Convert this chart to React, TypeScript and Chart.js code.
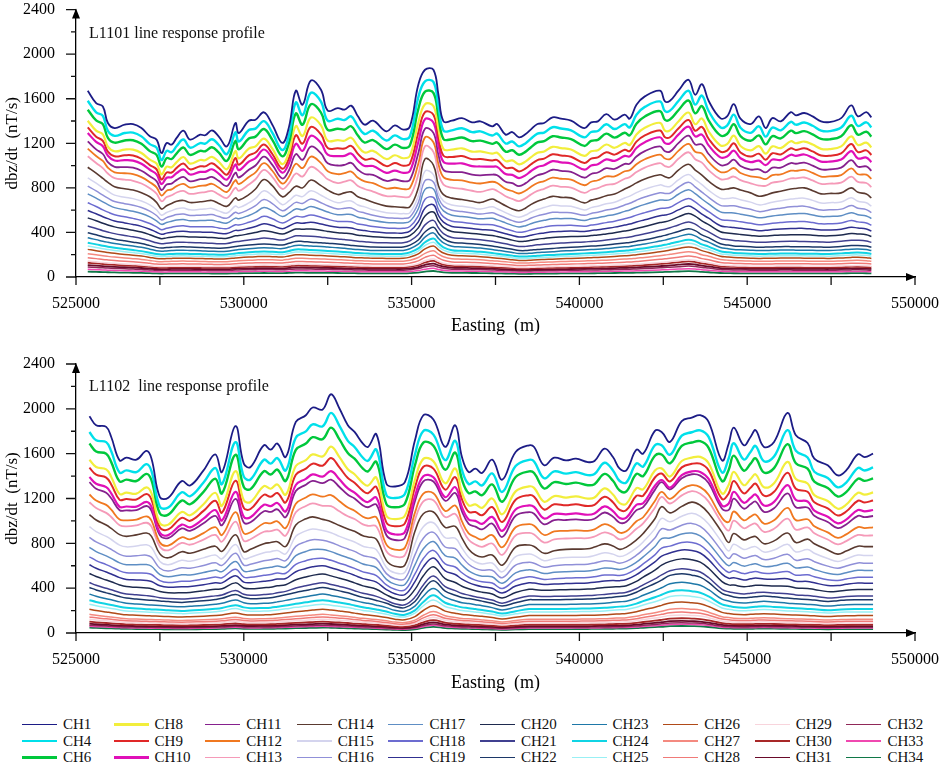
import React, { useEffect, useRef } from 'react';
import Chart from 'chart.js/auto';

const FONT = "'Liberation Serif', 'Times New Roman', serif";

// === Channels ===
const CHANNELS = [
  'CH1', 'CH4', 'CH6', 'CH8', 'CH9', 'CH10', 'CH11', 'CH12', 'CH13', 'CH14',
  'CH15', 'CH16', 'CH17', 'CH18', 'CH19', 'CH20', 'CH21', 'CH22', 'CH23', 'CH24',
  'CH25', 'CH26', 'CH27', 'CH28', 'CH29', 'CH30', 'CH31', 'CH32', 'CH33', 'CH34',
];

const CHANNEL_COLORS = [
  '#1c1c86', '#00e0ea', '#00c83c', '#f2ee3c', '#e02828', '#e010b8', '#86208e', '#f07820', '#f59ab8', '#5a3a30',
  '#d4d4ee', '#9090d8', '#5e8ec4', '#6c6cd0', '#303090', '#1e2a4e', '#404090', '#1c3868', '#1e78a8', '#10d4e4',
  '#98f0f4', '#b04a18', '#f48a80', '#f07a78', '#f8d4dc', '#a82828', '#6a0a2a', '#902858', '#f048b0', '#107848',
];

const CHANNEL_WIDTHS = [
  1.8, 2.4, 2.4, 2.2, 2, 2.2, 1.8, 1.8, 1.8, 1.6,
  1.5, 1.5, 1.5, 1.5, 1.5, 1.5, 1.5, 1.5, 1.5, 2,
  1.5, 1.5, 1.5, 1.5, 1.5, 1.8, 1.8, 1.5, 1.5, 1.8,
];

// how much of the CH1 shape each channel carries (the rest follows CH14)
const EARLY_SHARE = [
  1, 0.89, 0.78, 0.67, 0.56, 0.44, 0.33, 0.22, 0.11, 0,
  0, 0, 0, 0, 0, 0, 0, 0, 0, 0,
  0, 0, 0, 0, 0, 0, 0, 0, 0, 0,
];
// how much of the CH22 shape each late channel carries (the rest follows CH14)
const DEEP_SHARE = [
  0, 0, 0, 0, 0, 0, 0, 0, 0, 0,
  0.125, 0.25, 0.375, 0.5, 0.625, 0.75, 0.875, 1, 1, 1,
  1, 1, 1, 1, 1, 1, 1, 1, 1, 1,
];

// === L1101 ===
const L1101_EASTING = [
  525350, 525600, 525800, 525950, 526150, 526450, 526700, 526950, 527200, 527400,
  527550, 527700, 527850, 528000, 528200, 528400, 528700, 528850, 529050, 529250,
  529500, 529750, 529850, 530150, 530350, 530600, 530850, 531150, 531350, 531550,
  531750, 532000, 532300, 532500, 532800, 533000, 533200, 533400, 533600, 533850,
  534250, 534500, 534750, 534950, 535200, 535400, 535650, 535800, 535950, 536200,
  536500, 536800, 537050, 537400, 537550, 537800, 538000, 538200, 538400, 538550,
  538750, 538950, 539200, 539450, 539750, 540150, 540350, 540550, 540800, 541050,
  541350, 541500, 541700, 541950, 542400, 542550, 542700, 542950, 543250, 543450,
  543650, 543850, 544200, 544400, 544600, 544800, 545100, 545350, 545550, 545750,
  546000, 546300, 546450, 546700, 546950, 547200, 547450, 547800, 548100, 548300,
  548550, 548700,
];
const L1101_CH1 = [
  1672, 1561, 1531, 1382, 1337, 1367, 1373, 1337, 1263, 1233,
  1113, 1203, 1188, 1248, 1313, 1233, 1278, 1272, 1316, 1263,
  1173, 1382, 1292, 1403, 1412, 1478, 1367, 1203, 1352, 1672,
  1546, 1764, 1681, 1493, 1516, 1502, 1538, 1442, 1367, 1403,
  1308, 1361, 1323, 1352, 1726, 1860, 1860, 1636, 1397, 1403,
  1426, 1388, 1397, 1352, 1373, 1278, 1301, 1254, 1283, 1323,
  1373, 1382, 1433, 1421, 1403, 1337, 1388, 1397, 1462, 1412,
  1457, 1421, 1546, 1621, 1672, 1576, 1582, 1672, 1770, 1636,
  1731, 1582, 1426, 1442, 1552, 1421, 1373, 1442, 1337, 1426,
  1397, 1480, 1451, 1472, 1442, 1397, 1391, 1426, 1540, 1442,
  1480, 1433,
];
const L1101_CH14 = [
  985, 932, 885, 850, 810, 792, 780, 757, 720, 670,
  610, 640, 660, 680, 687, 668, 675, 680, 687, 660,
  635, 710, 690, 740, 790, 875, 820, 720, 760, 815,
  800, 870, 820, 780, 740, 755, 764, 720, 700, 670,
  636, 630, 625, 630, 800, 1060, 1005, 820, 740, 708,
  695, 680, 668, 700, 680, 640, 610, 595, 620, 650,
  680, 700, 724, 715, 710, 665, 690, 705, 730, 745,
  790, 810, 845, 880, 918, 900, 892, 960, 1012, 960,
  915, 860, 790, 790, 800, 780, 755, 725, 735, 755,
  770, 790, 795, 800, 775, 746, 750, 755, 800, 760,
  745, 710,
];
const L1101_CH22 = [
  472, 450, 430, 418, 404, 386, 372, 357, 335, 316,
  310, 314, 318, 321, 322, 319, 316, 313, 310, 308,
  311, 325, 330, 341, 347, 352, 348, 342, 360, 380,
  380, 372, 366, 360, 352, 345, 337, 330, 326, 320,
  318, 318, 320, 340, 395, 480, 531, 465, 410, 370,
  362, 355, 348, 330, 322, 308, 295, 283, 282, 287,
  294, 299, 305, 312, 317, 326, 330, 334, 342, 352,
  363, 368, 382, 397, 432, 444, 460, 486, 514, 495,
  450, 420, 355, 342, 332, 328, 322, 318, 319, 321,
  324, 324, 323, 322, 321, 319, 318, 326, 335, 337,
  330, 318,
];
const L1101_START = [
  1672, 1582, 1502, 1403, 1343, 1292, 1218, 1152, 1084, 985,
  889, 815, 746, 666, 597, 531, 457, 397, 352, 307,
  278, 248, 209, 173, 143, 128, 107, 90, 69, 48,
];

// === L1102 ===
const L1102_EASTING = [
  525400, 525600, 525900, 526050, 526300, 526500, 526800, 527100, 527250, 527500,
  527750, 528150, 528400, 528800, 529150, 529350, 529750, 530000, 530200, 530600,
  530800, 531000, 531250, 531550, 531850, 532050, 532350, 532600, 532850, 533100,
  533300, 533550, 533700, 533950, 534250, 534500, 534800, 535100, 535350, 535650,
  536000, 536300, 536500, 536700, 536900, 537100, 537400, 537700, 538100, 538500,
  538650, 538950, 539250, 539600, 539900, 540250, 540450, 540750, 541000, 541200,
  541400, 541700, 541900, 542250, 542450, 542700, 543050, 543350, 543600, 543850,
  544250, 544450, 544600, 544900, 545100, 545250, 545500, 545800, 546200, 546450,
  546800, 547000, 547400, 547700, 547950, 548300, 548500, 548750,
];
const L1102_CH1 = [
  1934, 1854, 1839, 1749, 1540, 1564, 1546, 1624, 1555, 1212,
  1206, 1355, 1316, 1451, 1594, 1436, 1845, 1511, 1481, 1675,
  1636, 1690, 1570, 1883, 1943, 2012, 1994, 2130, 2003, 1854,
  1794, 1690, 1660, 1773, 1332, 1307, 1346, 1719, 1943, 1905,
  1660, 1854, 1570, 1436, 1466, 1427, 1546, 1368, 1615, 1675,
  1660, 1496, 1564, 1540, 1555, 1525, 1534, 1645, 1570, 1466,
  1451, 1636, 1600, 1803, 1794, 1705, 1891, 1922, 1943, 1883,
  1540, 1690, 1833, 1675, 1749, 1809, 1660, 1705, 1964, 1764,
  1695, 1555, 1496, 1406, 1451, 1594, 1570, 1600,
];
const L1102_CH14 = [
  1048, 1000, 955, 925, 870, 855, 868, 884, 855, 700,
  665, 719, 706, 740, 768, 722, 869, 720, 740, 790,
  800, 808, 765, 955, 1010, 1027, 1005, 985, 950, 920,
  900, 860, 850, 830, 640, 590, 600, 900, 1055, 1070,
  935, 943, 840, 740, 690, 672, 690, 600, 760, 779,
  765, 705, 728, 740, 742, 745, 760, 788, 770, 740,
  760, 824, 880, 1010, 1117, 1063, 1120, 1158, 1130, 1060,
  890, 800, 880, 824, 845, 853, 790, 815, 884, 800,
  830, 790, 735, 698, 725, 768, 764, 764,
];
const L1102_CH22 = [
  391, 370, 345, 334, 313, 300, 292, 284, 281, 276,
  270, 263, 268, 277, 288, 298, 331, 305, 295, 298,
  302, 313, 328, 348, 365, 377, 391, 378, 362, 345,
  327, 306, 298, 280, 255, 228, 218, 270, 370, 448,
  360, 325, 305, 296, 285, 274, 255, 232, 260, 286,
  286, 286, 286, 287, 289, 292, 294, 300, 308, 314,
  320, 350, 380, 425, 455, 495, 510, 497, 480, 435,
  340, 322, 310, 302, 307, 312, 318, 311, 300, 295,
  287, 283, 271, 278, 284, 286, 286, 286,
];
const L1102_START = [
  1934, 1794, 1690, 1546, 1475, 1391, 1346, 1236, 1167, 1057,
  949, 853, 764, 680, 609, 531, 450, 406, 347, 293,
  257, 212, 167, 143, 123, 101, 83, 70, 60, 48,
];

// === Axis ticks + arrow heads ===
const axisDecor = {
  id: 'axisDecor',
  afterDraw(chart: any) {
    const { ctx } = chart;
    const x = chart.scales.x;
    const y = chart.scales.y;
    const x0 = x.getPixelForValue(x.min);
    const y0 = y.getPixelForValue(y.min);
    ctx.save();
    ctx.strokeStyle = '#111';
    ctx.lineWidth = 1.3;
    ctx.beginPath();
    y.ticks.forEach((t: any) => {
      const py = y.getPixelForValue(t.value);
      const len = t.value % 400 === 0 ? 10 : 5;
      ctx.moveTo(x0, py);
      ctx.lineTo(x0 - len, py);
    });
    x.ticks.forEach((t: any) => {
      const px = x.getPixelForValue(t.value);
      ctx.moveTo(px, y0);
      ctx.lineTo(px, y0 + 8);
    });
    ctx.stroke();

    ctx.fillStyle = '#000';
    const xt = x.getPixelForValue(x.max);
    ctx.beginPath();
    ctx.moveTo(xt + 1, y0);
    ctx.lineTo(xt - 9, y0 - 4);
    ctx.lineTo(xt - 9, y0 + 4);
    ctx.closePath();
    ctx.fill();
    const yt = y.getPixelForValue(y.max);
    ctx.beginPath();
    ctx.moveTo(x0, yt - 1);
    ctx.lineTo(x0 - 4, yt + 9);
    ctx.lineTo(x0 + 4, yt + 9);
    ctx.closePath();
    ctx.fill();
    ctx.restore();
  },
};

interface PanelProps {
  easting: number[];
  early: number[];
  late: number[];
  deep: number[];
  start: number[];
  top: number;
  height: number;
  padTop: number;
  xAxisHeight: number;
  xTitlePad: number;
  title: string;
  titleTop: number;
}

const ProfilePanel: React.FC<PanelProps> = ({
  easting, early, late, deep, start, top, height, padTop, xAxisHeight, xTitlePad, title, titleTop,
}) => {
  const canvasRef = useRef<HTMLCanvasElement>(null);

  useEffect(() => {
    if (!canvasRef.current) return;

    const datasets = CHANNELS.map((name, k) => {
      const a = EARLY_SHARE[k];
      const s = DEEP_SHARE[k];
      const rest = start[k] - a * early[0];
      const data = easting.map((e, i) => ({
        x: e,
        y: a * early[i] + rest * ((1 - s) * late[i] / late[0] + s * deep[i] / deep[0]),
      }));
      return {
        label: name,
        data,
        borderColor: CHANNEL_COLORS[k],
        borderWidth: CHANNEL_WIDTHS[k],
        pointRadius: 0,
        tension: 0.4,
        fill: false,
      };
    });

    const chart = new Chart(canvasRef.current, {
      type: 'line',
      data: { datasets },
      options: {
        animation: false,
        responsive: true,
        maintainAspectRatio: false,
        layout: { padding: { top: padTop, right: 26, left: 0, bottom: 0 } },
        plugins: { legend: { display: false }, tooltip: { enabled: false } },
        scales: {
          x: {
            type: 'linear',
            min: 525000,
            max: 550000,
            afterFit: (sc: any) => { sc.height = xAxisHeight; },
            ticks: {
              stepSize: 2500,
              autoSkip: false,
              maxRotation: 0,
              padding: 0,
              color: '#000',
              font: { family: FONT, size: 16 },
              callback: (v: any) => (Number(v) % 5000 === 0 ? String(v) : ''),
            },
            grid: { drawOnChartArea: false, drawTicks: true, tickLength: 17, tickColor: 'rgba(0,0,0,0)' },
            border: { color: '#000', width: 1.3 },
            title: {
              display: true,
              text: 'Easting  (m)',
              color: '#000',
              font: { family: FONT, size: 18 },
              padding: { top: xTitlePad, bottom: xTitlePad },
            },
          },
          y: {
            min: 0,
            max: 2400,
            afterFit: (sc: any) => { sc.width = 76; },
            ticks: {
              stepSize: 200,
              autoSkip: false,
              padding: 0,
              color: '#000',
              font: { family: FONT, size: 16 },
              callback: (v: any) => (Number(v) % 400 === 0 ? String(v) : ''),
            },
            grid: { drawOnChartArea: false, drawTicks: true, tickLength: 21, tickColor: 'rgba(0,0,0,0)' },
            border: { color: '#000', width: 1.3 },
            title: {
              display: true,
              text: 'dbz/dt  (nT/s)',
              color: '#000',
              font: { family: FONT, size: 17 },
              padding: { top: 2, bottom: 0 },
            },
          },
        },
      },
      plugins: [axisDecor],
    });

    return () => chart.destroy();
  }, [easting, early, late, deep, start, padTop, xAxisHeight, xTitlePad]);

  return (
    <div style={{ position: 'absolute', left: 0, top, width: 941, height }}>
      <canvas ref={canvasRef} />
      <div
        style={{
          position: 'absolute',
          left: 89,
          top: titleTop,
          fontFamily: FONT,
          fontSize: 16,
          lineHeight: '18px',
          color: '#111',
          whiteSpace: 'pre',
        }}
      >
        {title}
      </div>
    </div>
  );
};

const App: React.FC = () => {
  useEffect(() => {
    document.body.style.margin = '0';
    document.body.style.background = '#fff';
  }, []);

  return (
    <div style={{ position: 'relative', width: 941, height: 764, background: '#fff', overflow: 'hidden' }}>
      <ProfilePanel
        easting={L1101_EASTING}
        early={L1101_CH1}
        late={L1101_CH14}
        deep={L1101_CH22}
        start={L1101_START}
        top={0}
        height={340}
        padTop={8}
        xAxisHeight={63}
        xTitlePad={3}
        title="L1101 line response profile"
        titleTop={24}
      />
      <ProfilePanel
        easting={L1102_EASTING}
        early={L1102_CH1}
        late={L1102_CH14}
        deep={L1102_CH22}
        start={L1102_START}
        top={340}
        height={360}
        padTop={24}
        xAxisHeight={67}
        xTitlePad={6}
        title="L1102  line response profile"
        titleTop={37}
      />

      {/* Legend: 10 columns x 3 rows, filled column by column */}
      {CHANNELS.map((name, k) => {
        const col = Math.floor(k / 3);
        const row = k % 3;
        return (
          <div
            key={name}
            style={{
              position: 'absolute',
              left: 22 + col * 91.6,
              top: 716 + row * 16.5,
              height: 17,
              display: 'flex',
              alignItems: 'center',
              fontFamily: FONT,
              fontSize: 15,
              color: '#111',
            }}
          >
            <div style={{ width: 35, height: CHANNEL_WIDTHS[k], background: CHANNEL_COLORS[k] }} />
            <span style={{ marginLeft: 6 }}>{name}</span>
          </div>
        );
      })}
    </div>
  );
};

export default App;
